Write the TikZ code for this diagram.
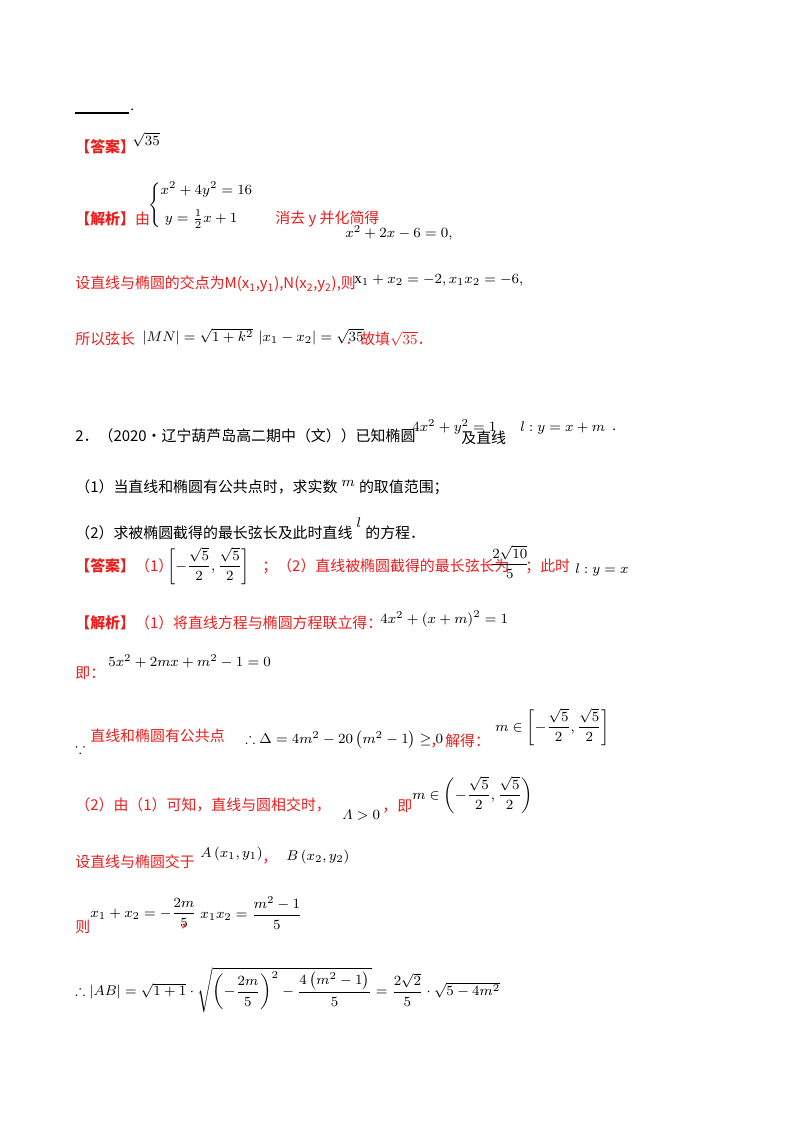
\documentclass[tikz,border=0pt]{standalone}
\usepackage{amsmath,amssymb}
\usepackage{fontspec}
\setmainfont{Liberation Serif}
\newfontfamily\cjk{Noto Sans CJK SC}
\definecolor{rd}{RGB}{235,30,30}
\begin{document}
\begin{tikzpicture}[x=0.02cm,y=-0.02cm,
  t/.style={anchor=west,inner sep=0,font=\cjk\fontsize{8.5}{10}\selectfont},
  r/.style={t,text=rd},
  m/.style={anchor=west,inner sep=0,font=\fontsize{8.5}{10}\selectfont}]
\useasboundingbox (0,0) rectangle (800,1132);
\fill[white] (0,0) rectangle (800,1132);
\coordinate (u1) at (75,113); \coordinate (u2) at (129,113);
\draw[line width=0.6pt] (u1) -- (u2);
\node[m] (dot0) at (130,110) {.};
\node[r] (a1) at (75,147) {\bfseries 【答案】};
\node[m] (a1v) at (132,140) {$\sqrt{35}$};
\node[r] (j1) at (75,219) {\bfseries 【解析】\mdseries 由};
\node[m] (sys) at (148,205) {$\left\{\begin{aligned}&x^2+4y^2=16\\[2pt] &\;y=\tfrac{1}{2}x+1\end{aligned}\right.$};
\node[r] (xq) at (275,219) {消去 y 并化简得};
\node[m] (e1) at (345,233) {$x^2+2x-6=0,$};
\node[r] (s1) at (75,284) {设直线与椭圆的交点为M(x\textsubscript{1},y\textsubscript{1}),N(x\textsubscript{2},y\textsubscript{2}),则};
\node[m] (e2) at (354,280) {$\mathrm{x}_1+x_2=-2,x_1x_2=-6,$};
\node[r] (s2) at (75,339) {所以弦长};
\node[m] (e3) at (142,337) {$\left|MN\right|=\sqrt{1+k^2}\,\left|x_1-x_2\right|=\sqrt{35}$};
\node[r] (s3) at (345,339) {．故填$\sqrt{35}$．};
\node[t] (q2) at (75,436) {2．（2020·辽宁葫芦岛高二期中（文））已知椭圆};
\node[m] (q2a) at (412,427) {$4x^2+y^2=1$};
\node[t] (q2b) at (461,438) {及直线};
\node[m] (q2c) at (520,428) {$l:y=x+m$};
\node[m] (q2d) at (612,430) {.};
\node[t] (q21) at (75,487) {（1）当直线和椭圆有公共点时，求实数\;\raisebox{3pt}{$m$}\;的取值范围；};
\node[t] (q22) at (75,529) {（2）求被椭圆截得的最长弦长及此时直线\;\raisebox{6pt}{$l$}\;的方程．};
\node[r] (a2) at (75,566) {\bfseries 【答案】\mdseries（1）};
\node[m] (a2v) at (167,566) {$\left[-\dfrac{\sqrt5}{2},\dfrac{\sqrt5}{2}\right]$};
\node[r] (a2b) at (262,566) {；（2）直线被椭圆截得的最长弦长为};
\node[m] (a2c) at (490,562) {$\dfrac{2\sqrt{10}}{5}$};
\node[r] (a2d) at (525,566) {；此时};
\node[m] (a2e) at (575,570) {$l:y=x$};
\node[r] (j2) at (75,623) {\bfseries 【解析】\mdseries（1）将直线方程与椭圆方程联立得：};
\node[m] (e4) at (380,619) {$4x^2+\left(x+m\right)^2=1$};
\node[r] (j3) at (75,673) {即：};
\node[m] (e5) at (108,661) {$5x^2+2mx+m^2-1=0$};
\node[m] (bc) at (75,748) {$\because$};
\node[r] (j4) at (90,736) {直线和椭圆有公共点};
\node[m] (e6) at (245,740) {$\therefore\Delta=4m^2-20\left(m^2-1\right)\ge0$};
\node[r] (j5) at (430,741) {，解得：};
\node[m] (e7) at (495,727) {$m\in\left[-\dfrac{\sqrt5}{2},\dfrac{\sqrt5}{2}\right]$};
\node[r] (j6) at (75,805) {（2）由（1）可知，直线与圆相交时，};
\node[m] (e8) at (342,815) {$\varLambda>0$};
\node[r] (j7) at (382,806) {，即};
\node[m] (e9) at (412,795) {$m\in\left(-\dfrac{\sqrt5}{2},\dfrac{\sqrt5}{2}\right)$};
\node[r] (j8) at (75,862) {设直线与椭圆交于};
\node[m] (e10) at (200,854) {$A\left(x_1,y_1\right)$};
\node[r] (j9) at (262,862) {，};
\node[m] (e11) at (286,857) {$B\left(x_2,y_2\right)$};
\node[r] (j10) at (75,927) {则};
\node[m] (e12) at (90,913) {$x_1+x_2=-\dfrac{2m}{5}$};
\node[r] (j11) at (180,927) {，};
\node[m] (e13) at (200,913) {$x_1x_2=\dfrac{m^2-1}{5}$};
\node[m] (e14) at (75,990) {$\therefore\left|AB\right|=\sqrt{1+1}\cdot\sqrt{\left(-\dfrac{2m}{5}\right)^2-\dfrac{4\left(m^2-1\right)}{5}}=\dfrac{2\sqrt2}{5}\cdot\sqrt{5-4m^2}$};
\end{tikzpicture}
\end{document}
